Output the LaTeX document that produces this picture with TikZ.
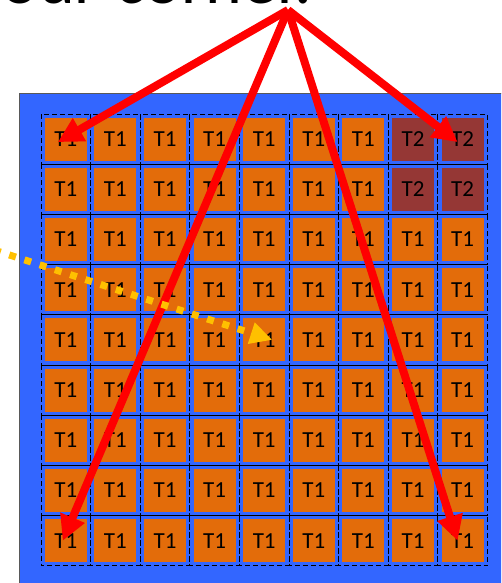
\documentclass[tikz,border=0pt]{standalone}
\usepackage{fontspec}
\setmainfont{Carlito}
\usepackage{tikz}
\usetikzlibrary{arrows.meta}

\definecolor{boardblue}{RGB}{51,102,255}
\definecolor{tileorange}{RGB}{227,108,10}
\definecolor{tilered}{RGB}{149,55,53}
\definecolor{markyellow}{RGB}{255,192,0}

\tikzset{
  cellline/.style={black,line width=0.8pt,dash pattern=on 5pt off 3pt},
  tile/.style={minimum width=42pt,minimum height=43pt,inner sep=0pt,
    font=\fontsize{23}{23}\selectfont},
  tileone/.style={tile,fill=tileorange},
  tiletwo/.style={tile,fill=tilered},
  pointer/.style={red,line width=8pt,-{Triangle[length=25pt,width=25pt]}},
  hint/.style={markyellow,line width=7pt,dash pattern=on 7pt off 9pt,
    -{Triangle[length=22pt,width=21pt]}}
}

\begin{document}
\begin{tikzpicture}[x=1pt,y=-1pt]
    \useasboundingbox (0,0) rectangle (501,583);
    \clip (0,0) rectangle (501,583);

    % Title (cut off at the top)
    \node[anchor=base west,inner sep=0pt,font=\fontsize{70}{70}\selectfont]
      (head) at (1,4) {our corner.};
    \coordinate (fan) at (288,10);
    \coordinate (from) at (-6,250);

    % Board
    \draw[fill=boardblue,draw=gray!70!black,line width=0.8pt] (19,93) rectangle (510,595);

    % Tiles
    \foreach \r in {1,...,9}
      \foreach \c in {1,...,9} {
        \pgfmathsetmacro{\cx}{65.8+49.6*(\c-1)}
        \pgfmathsetmacro{\cy}{139.1+50.2*(\r-1)}
        \pgfmathtruncatemacro{\hot}{and(\r<3,\c>7)}
        \draw[cellline] (\cx-24.8,\cy-25.1) rectangle (\cx+24.8,\cy+25.1);
        \ifnum\hot=1
          \node[tiletwo] (c-\r-\c) at (\cx,\cy) {T2};
        \else
          \node[tileone] (c-\r-\c) at (\cx,\cy) {T1};
        \fi
      }

    % Corner arrows
    \draw[pointer] (fan) -- ([xshift=-8pt,yshift=-3pt]c-1-1.center);
    \draw[pointer] (fan) -- ([xshift=-5pt,yshift=-3pt]c-1-9.center);
    \draw[pointer] (fan) -- ([xshift=-3pt]c-9-1.center);
    \draw[pointer] (fan) -- ([xshift=-5pt]c-9-9.center);

    % Dotted hint
    \draw[hint] (from) -- ([xshift=8pt]c-5-5.center);
\end{tikzpicture}
\end{document}
